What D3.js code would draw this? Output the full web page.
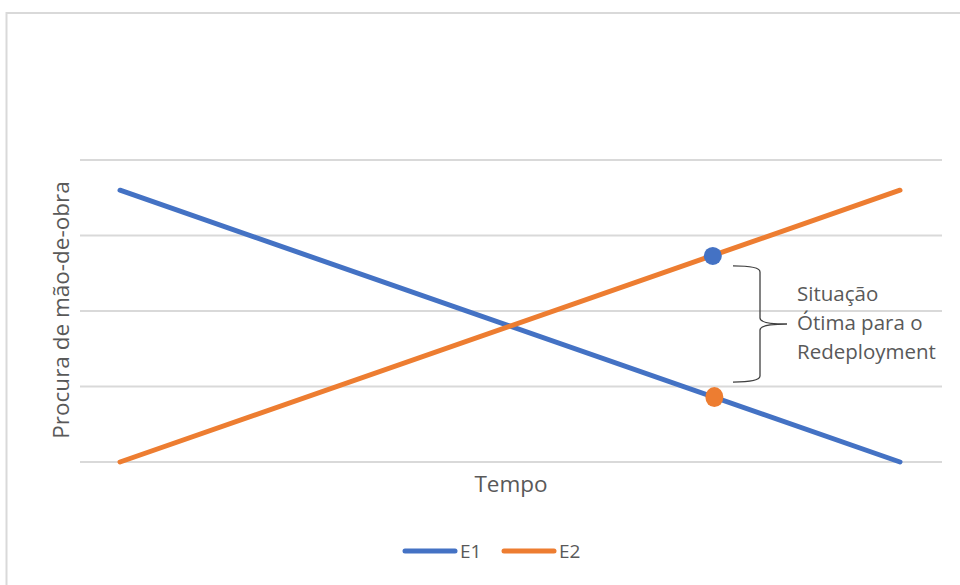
<!DOCTYPE html>
<html>
<head>
<meta charset="utf-8">
<script src="https://cdn.jsdelivr.net/npm/d3@7"></script>
<style>
  body { margin: 0; background: #fff; }
  text { font-family: "Open Sans", "Noto Sans", sans-serif; fill: #595959; }
</style>
</head>
<body>
<div id="chart"></div>
<script>
// data
var tempo = [0, 1];
var e1 = [3.6, 0];
var e2 = [0, 3.6];
var seriesNames = ["E1", "E2"];
var seriesColors = ["#4472c4", "#ed7d31"];
var yTicks = [0, 1, 2, 3, 4];
// markers where the lines are furthest apart on the right
var markerT = [0.76, 0.762];
var markerV = [2.73, 0.86];
var markerColors = ["#4472c4", "#ed7d31"];
var noteLines = ["Situação", "Ótima para o", "Redeployment"];

var W = 960, H = 585;
var svg = d3.select("#chart").append("svg").attr("width", W).attr("height", H);

// chart frame
svg.append("rect").attr("x", 6.5).attr("y", 13).attr("width", 980).attr("height", 600)
  .attr("fill", "none").attr("stroke", "#d9d9d9").attr("stroke-width", 2);

var x = d3.scaleLinear().domain([0, 1]).range([120, 900]);
var y = d3.scaleLinear().domain([0, 4]).range([462, 160]);

// gridlines
svg.append("g").selectAll("line").data(yTicks).enter().append("line")
  .attr("x1", 80).attr("x2", 942)
  .attr("y1", function(d) { return y(d); }).attr("y2", function(d) { return y(d); })
  .attr("stroke", "#d9d9d9").attr("stroke-width", 2);

var line = d3.line().x(function(d) { return x(d[0]); }).y(function(d) { return y(d[1]); });
var series = [e1, e2];
series.forEach(function(vals, i) {
  svg.append("path")
    .datum(tempo.map(function(t, j) { return [t, vals[j]]; }))
    .attr("d", line).attr("fill", "none")
    .attr("stroke", seriesColors[i]).attr("stroke-width", 5).attr("stroke-linecap", "round");
});

// markers
svg.append("g").selectAll("ellipse").data(markerT).enter().append("ellipse")
  .attr("cx", function(d) { return x(d); })
  .attr("cy", function(d, i) { return y(markerV[i]); })
  .attr("rx", 9).attr("ry", function(d, i) { return i ? 10 : 9; })
  .attr("fill", function(d, i) { return markerColors[i]; });

// brace
var bx = 733, bTop = y(markerV[0]) + 10, bBot = y(markerV[1]) - 15, bMid = (bTop + bBot) / 2;
svg.append("path")
  .attr("d", "M" + bx + "," + bTop + " Q" + (bx + 27) + "," + bTop + " " + (bx + 27) + "," + (bTop + 6) +
    " L" + (bx + 27) + "," + (bMid - 6) + " Q" + (bx + 27) + "," + bMid + " " + (bx + 54) + "," + bMid +
    " Q" + (bx + 27) + "," + bMid + " " + (bx + 27) + "," + (bMid + 6) +
    " L" + (bx + 27) + "," + (bBot - 6) + " Q" + (bx + 27) + "," + bBot + " " + bx + "," + bBot)
  .attr("fill", "none").attr("stroke", "#404040").attr("stroke-width", 1.3);

svg.append("g").selectAll("text").data(noteLines).enter().append("text")
  .attr("x", 797).attr("y", function(d, i) { return 301 + i * 29; })
  .style("font-size", "20.5px").text(function(d) { return d; });

// axis titles
svg.append("text").attr("x", 511).attr("y", 492).attr("text-anchor", "middle")
  .style("font-size", "22.5px").text("Tempo");
svg.append("text").attr("transform", "translate(69,310) rotate(-90)").attr("text-anchor", "middle")
  .style("font-size", "22.5px").text("Procura de mão-de-obra");

// legend
var leg = svg.append("g").selectAll("g").data(seriesNames).enter().append("g")
  .attr("transform", function(d, i) { return "translate(" + (405 + i * 99) + ",551)"; });
leg.append("line").attr("x1", 0).attr("x2", 50)
  .attr("stroke", function(d, i) { return seriesColors[i]; })
  .attr("stroke-width", 5).attr("stroke-linecap", "round");
leg.append("text").attr("x", 55).attr("y", 7).style("font-size", "19px").text(function(d) { return d; });
</script>
</body>
</html>
